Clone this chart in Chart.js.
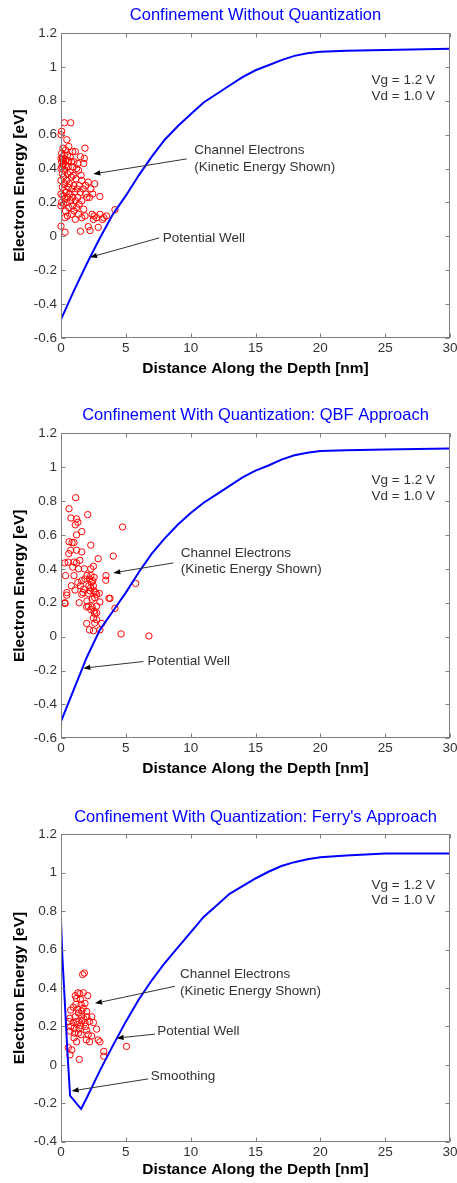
<!DOCTYPE html>
<html><head><meta charset="utf-8">
<script src="https://cdn.jsdelivr.net/npm/chart.js@4/dist/chart.umd.min.js"></script>
<style>
html,body{margin:0;padding:0;background:#fff;}
body{width:457px;height:1183px;position:relative;overflow:hidden;}
canvas{position:absolute;left:0;}
</style></head><body>
<canvas id="c1" width="457" height="394" style="top:0px"></canvas>
<canvas id="c2" width="457" height="394" style="top:394px"></canvas>
<canvas id="c3" width="457" height="395" style="top:788px"></canvas>
<script>
const FONT = "'Liberation Sans', Arial, Helvetica, sans-serif";

// ---- tick values / labels ----
const xTicks = [0, 5, 10, 15, 20, 25, 30];
const xTickLabels = ['0', '5', '10', '15', '20', '25', '30'];
const yTicksA = [-0.6, -0.4, -0.2, 0, 0.2, 0.4, 0.6, 0.8, 1, 1.2];
const yTickLabelsA = ['-0.6', '-0.4', '-0.2', '0', '0.2', '0.4', '0.6', '0.8', '1', '1.2'];
const yTicksB = [-0.4, -0.2, 0, 0.2, 0.4, 0.6, 0.8, 1, 1.2];
const yTickLabelsB = ['-0.4', '-0.2', '0', '0.2', '0.4', '0.6', '0.8', '1', '1.2'];

// ---- panel 1: without quantization ----
const wellX1 = [0,1,2,3,4,5,6,7,8,9,10,11,12,13,14,15,16,17,18,19,20,22,25,30];
const wellY1 = [-0.49,-0.32,-0.16,-0.01,0.13,0.24,0.36,0.47,0.57,0.65,0.72,0.79,0.84,0.89,0.94,0.98,1.01,1.04,1.065,1.08,1.09,1.095,1.10,1.107];
const electrons1 = [
[0.26,0.67],[0.75,0.67],[0.05,0.62],[0.0,0.60],[0.45,0.57],[1.85,0.52],[0.6,0.53],[0.15,0.52],[0.35,0.51],[0.9,0.50],
[1.1,0.50],[0.05,0.49],[0.25,0.48],[0.5,0.48],[0.7,0.47],[1.5,0.47],[1.8,0.46],[0.0,0.46],[0.1,0.455],[0.2,0.45],
[0.4,0.45],[0.6,0.445],[0.8,0.44],[1.0,0.44],[1.3,0.43],[1.75,0.43],[0.15,0.42],[0.35,0.42],[0.55,0.41],[0.9,0.41],
[1.2,0.40],[0.0,0.40],[0.3,0.39],[1.35,0.39],[0.7,0.38],[0.1,0.37],[0.5,0.37],[0.95,0.36],[1.55,0.36],[0.2,0.35],
[0.8,0.35],[1.15,0.34],[0.0,0.33],[0.45,0.33],[1.6,0.33],[2.1,0.32],[2.6,0.31],[0.3,0.31],[0.65,0.31],[1.0,0.30],
[1.4,0.30],[1.9,0.30],[0.1,0.29],[0.55,0.29],[0.85,0.28],[1.25,0.28],[1.7,0.28],[2.3,0.28],[0.25,0.27],[0.4,0.26],
[1.05,0.26],[1.5,0.26],[0.0,0.25],[0.7,0.25],[1.9,0.25],[2.45,0.25],[3.0,0.235],[0.15,0.24],[0.5,0.23],[0.9,0.23],
[1.3,0.23],[2.0,0.23],[2.2,0.23],[0.3,0.22],[0.75,0.21],[1.1,0.21],[1.6,0.21],[0.05,0.20],[0.45,0.20],[1.4,0.19],
[0.2,0.19],[0.9,0.18],[1.2,0.17],[0.6,0.17],[0.0,0.18],[1.75,0.16],[4.16,0.157],[0.35,0.15],[1.0,0.15],[0.8,0.13],
[1.35,0.13],[2.4,0.13],[2.55,0.12],[3.0,0.13],[3.3,0.11],[3.5,0.12],[1.85,0.12],[0.3,0.11],[1.1,0.10],[2.5,0.10],
[2.75,0.11],[3.2,0.10],[1.6,0.11],[0.5,0.12],[0.0,0.06],[2.1,0.057],[2.87,0.053],[2.24,0.034],[0.31,0.024],[1.5,0.03],
[0.05,0.44],[0.12,0.47],[0.2,0.43],[0.08,0.41]
];

// ---- panel 2: QBF approach ----
const wellX2 = [0,1,2,3,4,5,6,7,8,9,10,11,12,13,14,15,16,17,18,19,20,22,25,30];
const wellY2 = [-0.50,-0.31,-0.12,0.04,0.15,0.26,0.38,0.49,0.58,0.66,0.73,0.79,0.84,0.89,0.94,0.98,1.01,1.045,1.07,1.085,1.095,1.10,1.105,1.11];
const electrons2 = [
[1.13,0.82],[0.62,0.755],[2.06,0.72],[0.77,0.70],[1.2,0.695],[1.3,0.675],[1.1,0.66],[4.75,0.647],[1.6,0.62],[1.2,0.60],
[0.62,0.56],[0.85,0.555],[1.0,0.555],[2.3,0.54],[0.75,0.51],[1.2,0.51],[1.6,0.50],[0.6,0.49],[2.87,0.46],[4.03,0.475],
[0.3,0.435],[1.0,0.44],[1.2,0.435],[0.9,0.41],[1.35,0.40],[1.8,0.40],[2.3,0.40],[2.5,0.415],[0.35,0.36],[1.0,0.36],
[2.0,0.36],[2.3,0.36],[2.2,0.34],[1.85,0.34],[3.45,0.333],[1.6,0.33],[1.3,0.32],[3.47,0.36],[5.76,0.314],[2.45,0.33],
[2.55,0.35],[0.8,0.30],[1.5,0.30],[1.75,0.28],[2.15,0.30],[2.35,0.32],[2.5,0.30],[1.08,0.275],[2.3,0.29],[0.44,0.245],
[0.31,0.196],[1.6,0.25],[1.7,0.26],[2.1,0.255],[2.25,0.27],[2.55,0.27],[2.75,0.25],[2.65,0.26],[2.95,0.255],[3.0,0.205],
[2.4,0.22],[2.6,0.23],[2.0,0.21],[3.78,0.226],[3.7,0.226],[2.1,0.18],[1.98,0.175],[2.4,0.175],[2.75,0.18],[2.3,0.16],
[2.55,0.15],[4.16,0.167],[2.6,0.137],[2.75,0.14],[2.5,0.11],[2.75,0.10],[2.6,0.08],[1.98,0.078],[3.14,0.078],[2.2,0.04],
[2.5,0.035],[3.0,0.04],[4.63,0.016],[6.78,0.004],[0.55,0.44],[1.45,0.45],[0.45,0.26],[1.4,0.20],[0.3,0.20]
];

// ---- panel 3: Ferry's approach ----
const wellX3 = [0,0.1,0.3,0.5,0.7,1.55,2,3,4,5,6,7,8,9,10,11,12,13,14,15,16,17,18,19,20,22,25,30];
const wellY3 = [0.75,0.57,0.32,0.06,-0.16,-0.23,-0.17,-0.03,0.10,0.225,0.34,0.44,0.53,0.61,0.69,0.77,0.83,0.89,0.93,0.97,1.005,1.035,1.055,1.07,1.08,1.09,1.10,1.10];
const electrons3 = [
[1.67,0.47],[1.8,0.478],[1.1,0.36],[1.3,0.375],[1.45,0.37],[1.72,0.375],[2.06,0.36],[1.2,0.345],[1.5,0.34],[1.85,0.32],
[0.95,0.30],[1.72,0.295],[1.3,0.29],[0.75,0.285],[1.98,0.278],[2.37,0.25],[1.6,0.255],[1.08,0.25],[0.69,0.243],[0.62,0.225],
[0.95,0.22],[1.21,0.226],[1.85,0.22],[2.2,0.226],[0.75,0.20],[1.0,0.19],[1.5,0.205],[1.98,0.18],[0.7,0.175],[1.05,0.165],
[1.55,0.157],[2.1,0.157],[2.37,0.15],[2.75,0.186],[1.0,0.14],[1.2,0.12],[1.95,0.13],[2.2,0.12],[2.87,0.13],[3.0,0.12],
[0.56,0.09],[0.83,0.078],[0.69,0.052],[1.41,0.028],[3.3,0.07],[3.3,0.045],[5.05,0.096],[1.35,0.27],[1.6,0.23],[1.25,0.21],
[1.4,0.19],[1.75,0.24],[2.0,0.25],[1.15,0.315],[1.55,0.315],[1.9,0.20],[1.35,0.165],[2.5,0.22],[1.6,0.28]
];

// ---- annotations (data coordinates) ----
const notes1 = {
  texts: [
    {x: 28.84, y: 0.919, text: 'Vg = 1.2 V', align: 'right'},
    {x: 28.84, y: 0.824, text: 'Vd = 1.0 V', align: 'right'},
    {x: 10.28, y: 0.506, text: 'Channel Electrons'},
    {x: 10.28, y: 0.407, text: '(Kinetic Energy Shown)'},
    {x: 7.84, y: -0.009, text: 'Potential Well'}
  ],
  arrows: [
    {x0: 9.69, y0: 0.457, x1: 2.49, y1: 0.368},
    {x0: 7.58, y0: -0.009, x1: 2.24, y1: -0.124}
  ]
};
const notes2 = {
  texts: [
    {x: 28.84, y: 0.925, text: 'Vg = 1.2 V', align: 'right'},
    {x: 28.84, y: 0.83, text: 'Vd = 1.0 V', align: 'right'},
    {x: 9.23, y: 0.492, text: 'Channel Electrons'},
    {x: 9.23, y: 0.398, text: '(Kinetic Energy Shown)'},
    {x: 6.68, y: -0.143, text: 'Potential Well'}
  ],
  arrows: [
    {x0: 8.66, y0: 0.435, x1: 4.03, y1: 0.376},
    {x0: 6.35, y0: -0.147, x1: 1.72, y1: -0.186}
  ]
};
const notes3 = {
  texts: [
    {x: 28.84, y: 0.936, text: 'Vg = 1.2 V', align: 'right'},
    {x: 28.84, y: 0.856, text: 'Vd = 1.0 V', align: 'right'},
    {x: 9.18, y: 0.473, text: 'Channel Electrons'},
    {x: 9.18, y: 0.383, text: '(Kinetic Energy Shown)'},
    {x: 7.42, y: 0.174, text: 'Potential Well'},
    {x: 6.92, y: -0.061, text: 'Smoothing'}
  ],
  arrows: [
    {x0: 8.79, y0: 0.409, x1: 2.62, y1: 0.32},
    {x0: 7.25, y0: 0.16, x1: 4.29, y1: 0.139},
    {x0: 6.73, y0: -0.073, x1: 0.82, y1: -0.136}
  ]
};

const framePlugin = {
  id: 'frame',
  afterDatasetsDraw(chart) {
    const {ctx, chartArea: a, scales: {x, y}} = chart;
    const L = Math.round(a.left) + 0.5, R = Math.round(a.right) - 0.5;
    const T = Math.round(a.top) + 0.5, B = Math.round(a.bottom) - 0.5;
    ctx.save();
    ctx.strokeStyle = '#7f7f7f';
    ctx.lineWidth = 1;
    ctx.strokeRect(L, T, R - L, B - T);
    ctx.beginPath();
    x.ticks.forEach(t => {
      const px = Math.round(x.getPixelForValue(t.value)) + 0.5;
      ctx.moveTo(px, B); ctx.lineTo(px, B - 4);
      ctx.moveTo(px, T); ctx.lineTo(px, T + 4);
    });
    y.ticks.forEach(t => {
      const py = Math.round(y.getPixelForValue(t.value)) + 0.5;
      ctx.moveTo(L, py); ctx.lineTo(L + 4, py);
      ctx.moveTo(R, py); ctx.lineTo(R - 4, py);
    });
    ctx.stroke();
    ctx.restore();
  }
};

function notesPlugin(notes) {
  return {
    id: 'notes',
    afterDraw(chart) {
      const {ctx, scales: {x, y}} = chart;
      ctx.save();
      ctx.font = '13.5px ' + FONT;
      ctx.fillStyle = '#333333';
      ctx.textBaseline = 'middle';
      notes.texts.forEach(t => {
        ctx.textAlign = t.align || 'left';
        ctx.fillText(t.text, x.getPixelForValue(t.x), y.getPixelForValue(t.y));
      });
      notes.arrows.forEach(a => {
        const x0 = x.getPixelForValue(a.x0), y0 = y.getPixelForValue(a.y0);
        const x1 = x.getPixelForValue(a.x1), y1 = y.getPixelForValue(a.y1);
        const ang = Math.atan2(y1 - y0, x1 - x0);
        const L = 7, W = 2.6;
        const bx = x1 - L * Math.cos(ang), by = y1 - L * Math.sin(ang);
        ctx.strokeStyle = '#333333';
        ctx.lineWidth = 1;
        ctx.beginPath(); ctx.moveTo(x0, y0); ctx.lineTo(bx, by); ctx.stroke();
        ctx.fillStyle = '#000000';
        ctx.beginPath();
        ctx.moveTo(x1, y1);
        ctx.lineTo(bx + W * Math.sin(ang), by - W * Math.cos(ang));
        ctx.lineTo(bx - W * Math.sin(ang), by + W * Math.cos(ang));
        ctx.closePath(); ctx.fill();
      });
      ctx.restore();
    }
  };
}

function makeChart(id, p) {
  const cv = document.getElementById(id);
  const H = cv.height;
  return new Chart(cv, {
    type: 'scatter',
    data: {
      datasets: [
        {
          label: 'Channel Electrons',
          data: p.electrons.map(e => ({x: e[0], y: e[1]})),
          showLine: false, pointRadius: 3.2, pointHoverRadius: 3.2,
          pointStyle: 'circle',
          borderColor: '#ff0000', backgroundColor: 'rgba(0,0,0,0)',
          borderWidth: 1, clip: false, order: 2
        },
        {
          label: 'Potential Well',
          data: p.wx.map((v, i) => ({x: v, y: p.wy[i]})),
          showLine: true, pointRadius: 0, pointHoverRadius: 0,
          borderColor: '#0000ff', backgroundColor: '#0000ff',
          borderWidth: 2, tension: 0, order: 1
        }
      ]
    },
    options: {
      responsive: false, animation: false, devicePixelRatio: 1, events: [],
      layout: {padding: {left: 0, right: 7, top: 0, bottom: 0}},
      plugins: {
        legend: {display: false},
        tooltip: {enabled: false},
        title: {
          display: true, text: p.title, color: '#0000ff', fullSize: false,
          font: {family: FONT, size: 16.5, weight: 'normal'},
          padding: {top: p.tpt, bottom: p.tpb}
        }
      },
      scales: {
        x: {
          type: 'linear', position: 'bottom', min: 0, max: 30,
          afterBuildTicks: s => { s.ticks = xTicks.map(v => ({value: v})); },
          afterFit: s => { s.height = H - p.bottom; s.paddingLeft = 0; s.paddingRight = 0; },
          grid: {display: false, drawTicks: false}, border: {display: false},
          ticks: {color: '#333333', font: {family: FONT, size: 13.5}, padding: 2,
                  maxRotation: 0, autoSkip: false, callback: (v, i) => xTickLabels[i]},
          title: {display: true, text: 'Distance Along the Depth [nm]', color: '#000000',
                  font: {family: FONT, size: 15.5, weight: 'bold'}, padding: {top: 0, bottom: p.xpb}}
        },
        y: {
          type: 'linear', position: 'left', min: p.ymin, max: 1.2,
          afterBuildTicks: s => { s.ticks = p.yTicks.map(v => ({value: v})); },
          afterFit: s => { s.width = 61; s.paddingTop = 0; s.paddingBottom = 0; },
          grid: {display: false, drawTicks: false}, border: {display: false},
          ticks: {color: '#333333', font: {family: FONT, size: 13.5}, padding: 4,
                  autoSkip: false, callback: (v, i) => p.yLabels[i]},
          title: {display: true, text: 'Electron Energy [eV]', color: '#000000',
                  font: {family: FONT, size: 15.5, weight: 'bold'}, padding: {top: 10.7, bottom: 0}}
        }
      }
    },
    plugins: [framePlugin, notesPlugin(p.notes)]
  });
}

makeChart('c1', {
  title: 'Confinement Without Quantization', tpt: 5.1, tpb: 8.1, bottom: 338, xpb: 16,
  ymin: -0.6, yTicks: yTicksA, yLabels: yTickLabelsA,
  wx: wellX1, wy: wellY1, electrons: electrons1, notes: notes1
});
makeChart('c2', {
  title: 'Confinement With Quantization: QBF Approach', tpt: 11.6, tpb: 7.9, bottom: 344.3, xpb: 9.7,
  ymin: -0.6, yTicks: yTicksA, yLabels: yTickLabelsA,
  wx: wellX2, wy: wellY2, electrons: electrons2, notes: notes2
});
makeChart('c3', {
  title: "Confinement With Quantization: Ferry's Approach", tpt: 19.1, tpb: 7.4, bottom: 353.7, xpb: 3.7,
  ymin: -0.4, yTicks: yTicksB, yLabels: yTickLabelsB,
  wx: wellX3, wy: wellY3, electrons: electrons3, notes: notes3
});
</script>
</body></html>
